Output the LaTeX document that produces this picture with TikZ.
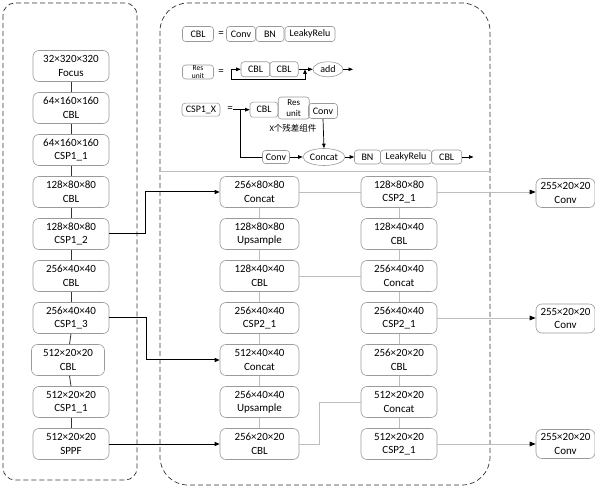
\documentclass[tikz,border=0pt]{standalone}
\usepackage{fontspec}
\setmainfont{Carlito}
\newfontfamily\cjk{Noto Sans CJK SC}
\usetikzlibrary{arrows.meta,shapes.geometric}
\definecolor{boxgray}{HTML}{9A9A9A}
\definecolor{linegray}{HTML}{BDBDBD}
\definecolor{darkline}{HTML}{333333}
\begin{document}
\begin{tikzpicture}[x=1pt,y=-1pt,
 blk/.style={draw=boxgray, line width=0.6pt, rounded corners=6pt, minimum width=76pt, minimum height=31pt, inner sep=1pt, align=center, font=\fontsize{11}{13.5}\selectfont},
 outblk/.style={blk, minimum width=59pt, minimum height=29pt},
 leg/.style={draw=boxgray, line width=0.6pt, rounded corners=3pt, minimum height=15pt, inner sep=1pt, align=center, font=\fontsize{10}{11}\selectfont},
 legell/.style={draw=boxgray, line width=0.6pt, ellipse, inner sep=0pt, font=\fontsize{10}{11}\selectfont},
 eqs/.style={inner sep=0pt, font=\fontsize{11}{12}\selectfont},
 bbline/.style={draw=darkline, line width=0.8pt},
 gline/.style={draw=linegray, line width=0.9pt},
 garr/.style={gline, -{Triangle[length=6pt,width=4.5pt,color=black]}},
 karr/.style={draw=black, line width=1pt, -{Triangle[length=5pt,width=4pt]}},
 larr/.style={draw=black, line width=0.7pt, -{Triangle[length=4.5pt,width=3.5pt]}},
 lline/.style={draw=black, line width=0.7pt},
 dbox/.style={draw=black!80, line width=0.7pt, dash pattern=on 5pt off 3pt}
]
\useasboundingbox (0,0) rectangle (595,489);

% dashed frames
\draw[dbox, rounded corners=12pt] (3,3) rectangle (137,480);
\draw[dbox, rounded corners=28pt] (160,3) rectangle (490,485);
\draw[draw=linegray, line width=0.8pt] (160,171) -- (490,171);

% ---------- legend ----------
\node[leg, minimum width=31pt] (lcbl) at (198,34) {CBL};
\node[eqs] (eq1) at (221,34) {=};
\node[leg, minimum width=29pt] (lconv) at (241,34) {Conv};
\node[leg, minimum width=28pt] (lbn) at (270,34) {BN};
\node[leg, minimum width=50pt] (lleaky) at (310,34) {LeakyRelu};

\node[leg, minimum width=31pt, minimum height=14pt, inner sep=0.5pt, font=\fontsize{7.5}{7.5}\selectfont] (lres) at (198,72) {Res\\unit};
\node[eqs] (eq2) at (221,72) {=};
\node[leg, minimum width=29pt] (rcbla) at (255.5,69.3) {CBL};
\node[leg, minimum width=28.5pt] (rcblb) at (284,69.3) {CBL};
\node[legell, minimum width=30pt, minimum height=15pt] (radd) at (328,69.3) {add};
\coordinate (rs) at (231.7,69.3);
\coordinate (rj) at (305,69.3);
\coordinate (re) at (353,69.3);
\draw[larr] (rs) -- (rcbla.west);
\draw[larr] (rcblb.east) -- (radd.west);
\draw[larr] (radd.east) -- (re);
\draw[larr] (rs) -- ++(0,10) -| (rj);

\node[leg, minimum width=38pt, minimum height=13pt] (lcsp) at (201,109.7) {CSP1\_X};
\node[eqs] (eq3) at (230,109.5) {=};
\node[leg, minimum width=28pt] (ccbl) at (264,109.7) {CBL};
\node[leg, minimum width=31pt, minimum height=22pt, inner sep=0.5pt, font=\fontsize{9}{10.5}\selectfont] (cres) at (293.7,108) {Res\\unit};
\node[leg, minimum width=29pt] (cconv) at (323,111) {Conv};
\node[inner sep=0pt, font=\fontsize{8.5}{9}\selectfont] (ctxt) at (293,128.5) {X{\cjk 个残差组件}};
\node[leg, minimum width=27pt, minimum height=13pt] (bconv) at (276,157) {Conv};
\node[legell, minimum width=42pt, minimum height=17pt] (bcat) at (324,157) {Concat};
\node[leg, minimum width=26pt, minimum height=14pt] (bbn) at (367.5,157) {BN};
\node[leg, minimum width=51pt, minimum height=14pt] (bleaky) at (406,157) {LeakyRelu};
\node[leg, minimum width=30pt, minimum height=14pt] (bcbl) at (446.7,157) {CBL};
\coordinate (cs) at (233,109.7);
\coordinate (cv) at (240,109.7);
\coordinate (ce) at (473.5,157);
\draw[larr] (cs) -- (ccbl.west);
\draw[lline] (bconv.west) -| (cv);
\draw[larr] (cconv.south) -- (bcat.north);
\draw[larr] (bconv.east) -- (bcat.west);
\draw[larr] (bcat.east) -- (bbn.west);
\draw[larr] (bcbl.east) -- (ce);

% ---------- backbone ----------
\node[blk] (b1) at (71,66) {32×320×320\\Focus};
\node[blk] (b2) at (71,108) {64×160×160\\CBL};
\node[blk] (b3) at (71,150) {64×160×160\\CSP1\_1};
\node[blk] (b4) at (71,192) {128×80×80\\CBL};
\node[blk] (b5) at (71,234) {128×80×80\\CSP1\_2};
\node[blk] (b6) at (71,276) {256×40×40\\CBL};
\node[blk] (b7) at (71,318) {256×40×40\\CSP1\_3};
\node[blk, minimum width=73pt] (b8) at (68,360) {512×20×20\\CBL};
\node[blk] (b9) at (71,402) {512×20×20\\CSP1\_1};
\node[blk] (b10) at (71,444) {512×20×20\\SPPF};
\foreach \a/\b in {b1/b2,b2/b3,b3/b4,b4/b5,b5/b6,b6/b7,b9/b10}
  \draw[bbline] (\a.south) -- (\b.north);
\draw[bbline] (b7.south) -- ([xshift=1.5pt]b8.north);
\draw[bbline] ([xshift=1.5pt]b8.south) -- (b9.north);

% ---------- neck ----------
\node[blk, minimum width=79pt] (m1) at (259.5,192) {256×80×80\\Concat};
\node[blk, minimum width=79pt] (m2) at (259.5,234) {128×80×80\\Upsample};
\node[blk, minimum width=79pt] (m3) at (259.5,276) {128×40×40\\CBL};
\node[blk, minimum width=79pt] (m4) at (259.5,318) {256×40×40\\CSP2\_1};
\node[blk, minimum width=79pt] (m5) at (259.5,360) {512×40×40\\Concat};
\node[blk, minimum width=79pt] (m6) at (259.5,402) {256×40×40\\Upsample};
\node[blk, minimum width=79pt] (m7) at (259.5,444) {256×20×20\\CBL};
\foreach \a/\b in {m1/m2,m2/m3,m3/m4,m4/m5,m5/m6,m6/m7}
  \draw[gline] (\a.south) -- (\b.north);

\node[blk] (r1) at (399,192) {128×80×80\\CSP2\_1};
\node[blk] (r2) at (399,234) {128×40×40\\CBL};
\node[blk] (r3) at (399,276) {256×40×40\\Concat};
\node[blk] (r4) at (399,318) {256×40×40\\CSP2\_1};
\node[blk] (r5) at (399,360) {256×20×20\\CBL};
\node[blk] (r6) at (399,402) {512×20×20\\Concat};
\node[blk] (r7) at (399,444) {512×20×20\\CSP2\_1};
\foreach \a/\b in {r1/r2,r2/r3,r3/r4,r4/r5,r5/r6,r6/r7}
  \draw[gline] (\a.south) -- (\b.north);

\draw[gline] (m1.east) -- (r1.west);
\draw[gline] (m3.east) -- (r3.west);
\draw[gline] (m7.east) -- ++(20,0) |- (r6.west);

% ---------- heads ----------
\node[outblk] (o1) at (565.5,193) {255×20×20\\Conv};
\node[outblk] (o2) at (565.5,318.5) {255×20×20\\Conv};
\node[outblk] (o3) at (565.5,444) {255×20×20\\Conv};
\draw[garr] (r1.east) -- (r1.east -| o1.west);
\draw[garr] (r4.east) -- (r4.east -| o2.west);
\draw[garr] (r7.east) -- (r7.east -| o3.west);

% ---------- backbone to neck ----------
\draw[karr] (b5.east) -- ++(36.5,0) |- (m1.west);
\draw[karr] (b7.east) -- ++(37,0) |- (m5.west);
\draw[karr] (b10.east) -- (m7.west);
\end{tikzpicture}
\end{document}
